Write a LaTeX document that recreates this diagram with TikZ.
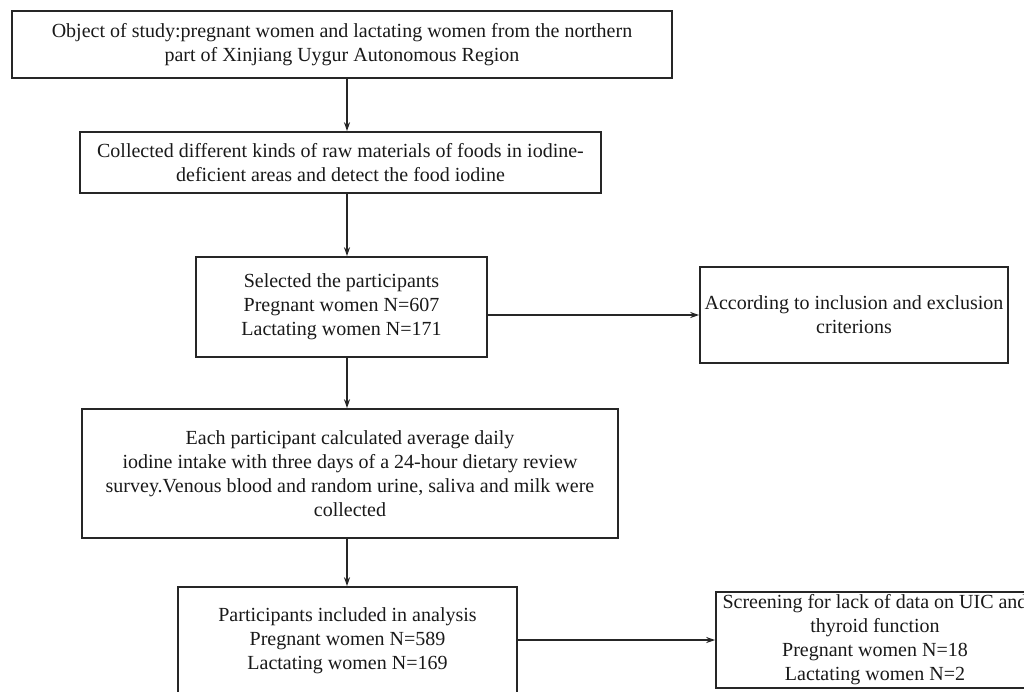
\documentclass[tikz,border=0pt]{standalone}
\usepackage{fontspec}
\setmainfont{Liberation Serif}
\usetikzlibrary{arrows.meta}
\begin{document}
\begin{tikzpicture}[x=1pt,y=-1pt,
  box/.style={draw=black!85, line width=1.6pt, inner sep=0pt, align=center,
    font=\fontsize{20}{24}\selectfont, text=black!90},
  arr/.style={line width=1.4pt, draw=black!85, -{Stealth[length=9pt,width=6pt]}}]
\useasboundingbox (0,0) rectangle (1024,691);
\clip (0,0) rectangle (1024,691);
\coordinate (ax) at (347,0);
\node[box, minimum width=660pt, minimum height=67pt] (b1) at (342,44.5)
  {Object of study:pregnant women and lactating women from the northern\\part of Xinjiang Uygur Autonomous Region};
\node[box, minimum width=521pt, minimum height=61pt] (b2) at (340.5,162.5)
  {Collected different kinds of raw materials of foods in iodine-\\deficient areas and detect the food iodine};
\node[box, minimum width=291pt, minimum height=100pt] (b3) at (341.5,307)
  {Selected the participants\\Pregnant women N=607\\Lactating women N=171};
\node[box, minimum width=308pt, minimum height=96pt] (b4) at (854,315)
  {According to inclusion and exclusion\\criterions};
\node[box, minimum width=536pt, minimum height=129pt] (b5) at (350,473.5)
  {Each participant calculated average daily\\iodine intake with three days of a 24-hour dietary review\\survey.Venous blood and random urine, saliva and milk were\\collected};
\node[box, minimum width=339pt, minimum height=108pt] (b6) at (347.5,641)
  {Participants included in analysis\\Pregnant women N=589\\Lactating women N=169};
\node[box, minimum width=318pt, minimum height=96pt] (b7) at (875,640)
  {Screening for lack of data on UIC and\\thyroid function\\Pregnant women N=18\\Lactating women N=2};
\draw[arr] (b1.south -| ax) -- (b2.north -| ax);
\draw[arr] (b2.south -| ax) -- (b3.north -| ax);
\draw[arr] (b3.south -| ax) -- (b5.north -| ax);
\draw[arr] (b5.south -| ax) -- (b6.north -| ax);
\draw[arr] (b3.east |- b4.west) -- (b4.west);
\draw[arr] (b6.east |- b7.west) -- (b7.west);
\end{tikzpicture}
\end{document}
